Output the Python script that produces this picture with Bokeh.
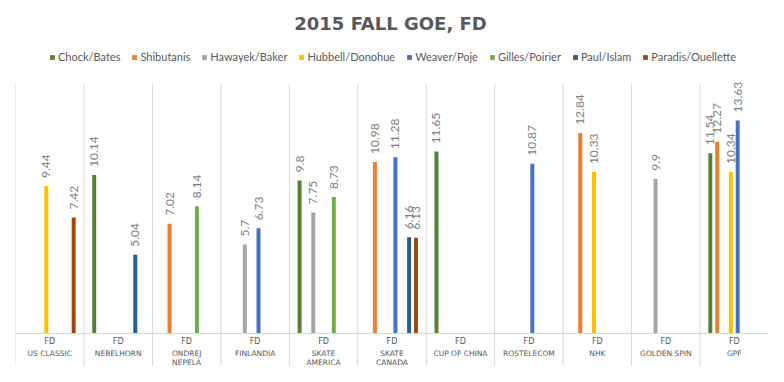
from bokeh.plotting import figure
from bokeh.models import ColumnDataSource, FactorRange, Range1d, Legend, LegendItem, Label, Span
from bokeh.transform import dodge
from bokeh.core.properties import value
from bokeh.embed import file_html
from bokeh.resources import INLINE

events = ["US CLASSIC", "NEBELHORN", "ONDREJ\nNEPELA", "FINLANDIA", "SKATE\nAMERICA",
          "SKATE\nCANADA", "CUP OF CHINA", "ROSTELECOM", "NHK", "GOLDEN SPIN", "GPF"]
segment = "FD"
series = ["Chock/Bates", "Shibutanis", "Hawayek/Baker", "Hubbell/Donohue",
          "Weaver/Poje", "Gilles/Poirier", "Paul/Islam", "Paradis/Ouellette"]
colors = ["#548235", "#ED7D31", "#A5A5A5", "#FFC000", "#4472C4", "#70AD47", "#255E91", "#9E480E"]

chock_bates = [None, 10.14, None, None, 9.8, None, 11.65, None, None, None, 11.54]
shibutanis = [None, None, 7.02, None, None, 10.98, None, None, 12.84, None, 12.27]
hawayek_baker = [None, None, None, 5.7, 7.75, None, None, None, None, 9.9, None]
hubbell_donohue = [9.44, None, None, None, None, None, None, None, 10.33, None, 10.34]
weaver_poje = [None, None, None, 6.73, None, 11.28, None, 10.87, None, None, 13.63]
gilles_poirier = [None, None, 8.14, None, 8.73, None, None, None, None, None, None]
paul_islam = [None, 5.04, None, None, None, 6.16, None, None, None, None, None]
paradis_ouellette = [7.42, None, None, None, None, 6.13, None, None, None, None, None]

all_values = [chock_bates, shibutanis, hawayek_baker, hubbell_donohue,
              weaver_poje, gilles_poirier, paul_islam, paradis_ouellette]

FONT = "Lato"
AXFONT = "DejaVu Sans"
factors = [(e, segment) for e in events]
x_range = FactorRange(*factors, factor_padding=0, group_padding=0, range_padding=0)

Y_MIN, Y_MAX = -2.112, 21.312
p = figure(width=768, height=366, x_range=x_range, y_range=Range1d(Y_MIN, Y_MAX),
           output_backend="svg", toolbar_location=None, y_axis_location=None,
           x_axis_location=None, title_location=None,
           min_border_left=15, min_border_right=0, min_border_bottom=0, min_border_top=0)
p.outline_line_color = None
p.xgrid.visible = False
p.ygrid.visible = False

# vertical category separators (plot area + label area)
sep_x = list(range(len(events) + 1))
p.segment(x0=sep_x, y0=[Y_MIN] * len(sep_x), x1=sep_x, y1=[16] * len(sep_x),
          line_color="#d9d9d9", line_width=1)
p.add_layout(Span(location=0, dimension="width", line_color="#d9d9d9", line_width=1))

# category labels: inner level "FD", outer level event names
lab_src = ColumnDataSource(dict(x=factors, seg=[segment] * len(events), ev=events))
p.text(x="x", y=-0.51, text="seg", source=lab_src, text_align="center",
       text_baseline="middle", text_font=value(AXFONT), text_font_size="8px",
       text_color="#595959")
p.text(x="x", y=-0.96, text="ev", source=lab_src, text_align="center",
       text_baseline="top", text_font=value(AXFONT), text_font_size="7.5px",
       text_line_height=1.0, text_color="#595959")

items = []
for i, (name, col, vals) in enumerate(zip(series, colors, all_values)):
    xs = [(events[j], segment) for j, v in enumerate(vals) if v is not None]
    ys = [v for v in vals if v is not None]
    labels = [f"{v:g}" for v in ys]
    src = ColumnDataSource(dict(x=xs, top=ys, label=labels))
    off = -0.35 + 0.1 * i
    r = p.vbar(x=dodge("x", off, range=p.x_range), top="top", bottom=0, width=0.058,
               source=src, fill_color=col, line_color=None)
    p.text(x=dodge("x", off, range=p.x_range), y="top", text="label", source=src,
           angle=1.5708, text_align="left", text_baseline="middle", y_offset=-8,
           text_font=value(FONT), text_font_size="12px", text_color="#7f7f7f")
    items.append(LegendItem(label=name, renderers=[r]))

legend = Legend(items=items, orientation="horizontal", location=(34, 303),
                glyph_width=6, glyph_height=6, label_standoff=3, spacing=11,
                padding=0, margin=0, label_height=12, border_line_color=None,
                background_fill_alpha=0, label_text_font=FONT,
                label_text_font_size="11px", label_text_color="#595959")
p.add_layout(legend)

title = Label(x=375, y=343, x_units="screen", y_units="screen", text="2015 FALL GOE, FD",
              text_align="center", text_baseline="middle", text_font=AXFONT,
              text_font_size="18px", text_font_style="bold", text_color="#595959")
p.add_layout(title)

open("out.html", "w").write(file_html(p, INLINE))
